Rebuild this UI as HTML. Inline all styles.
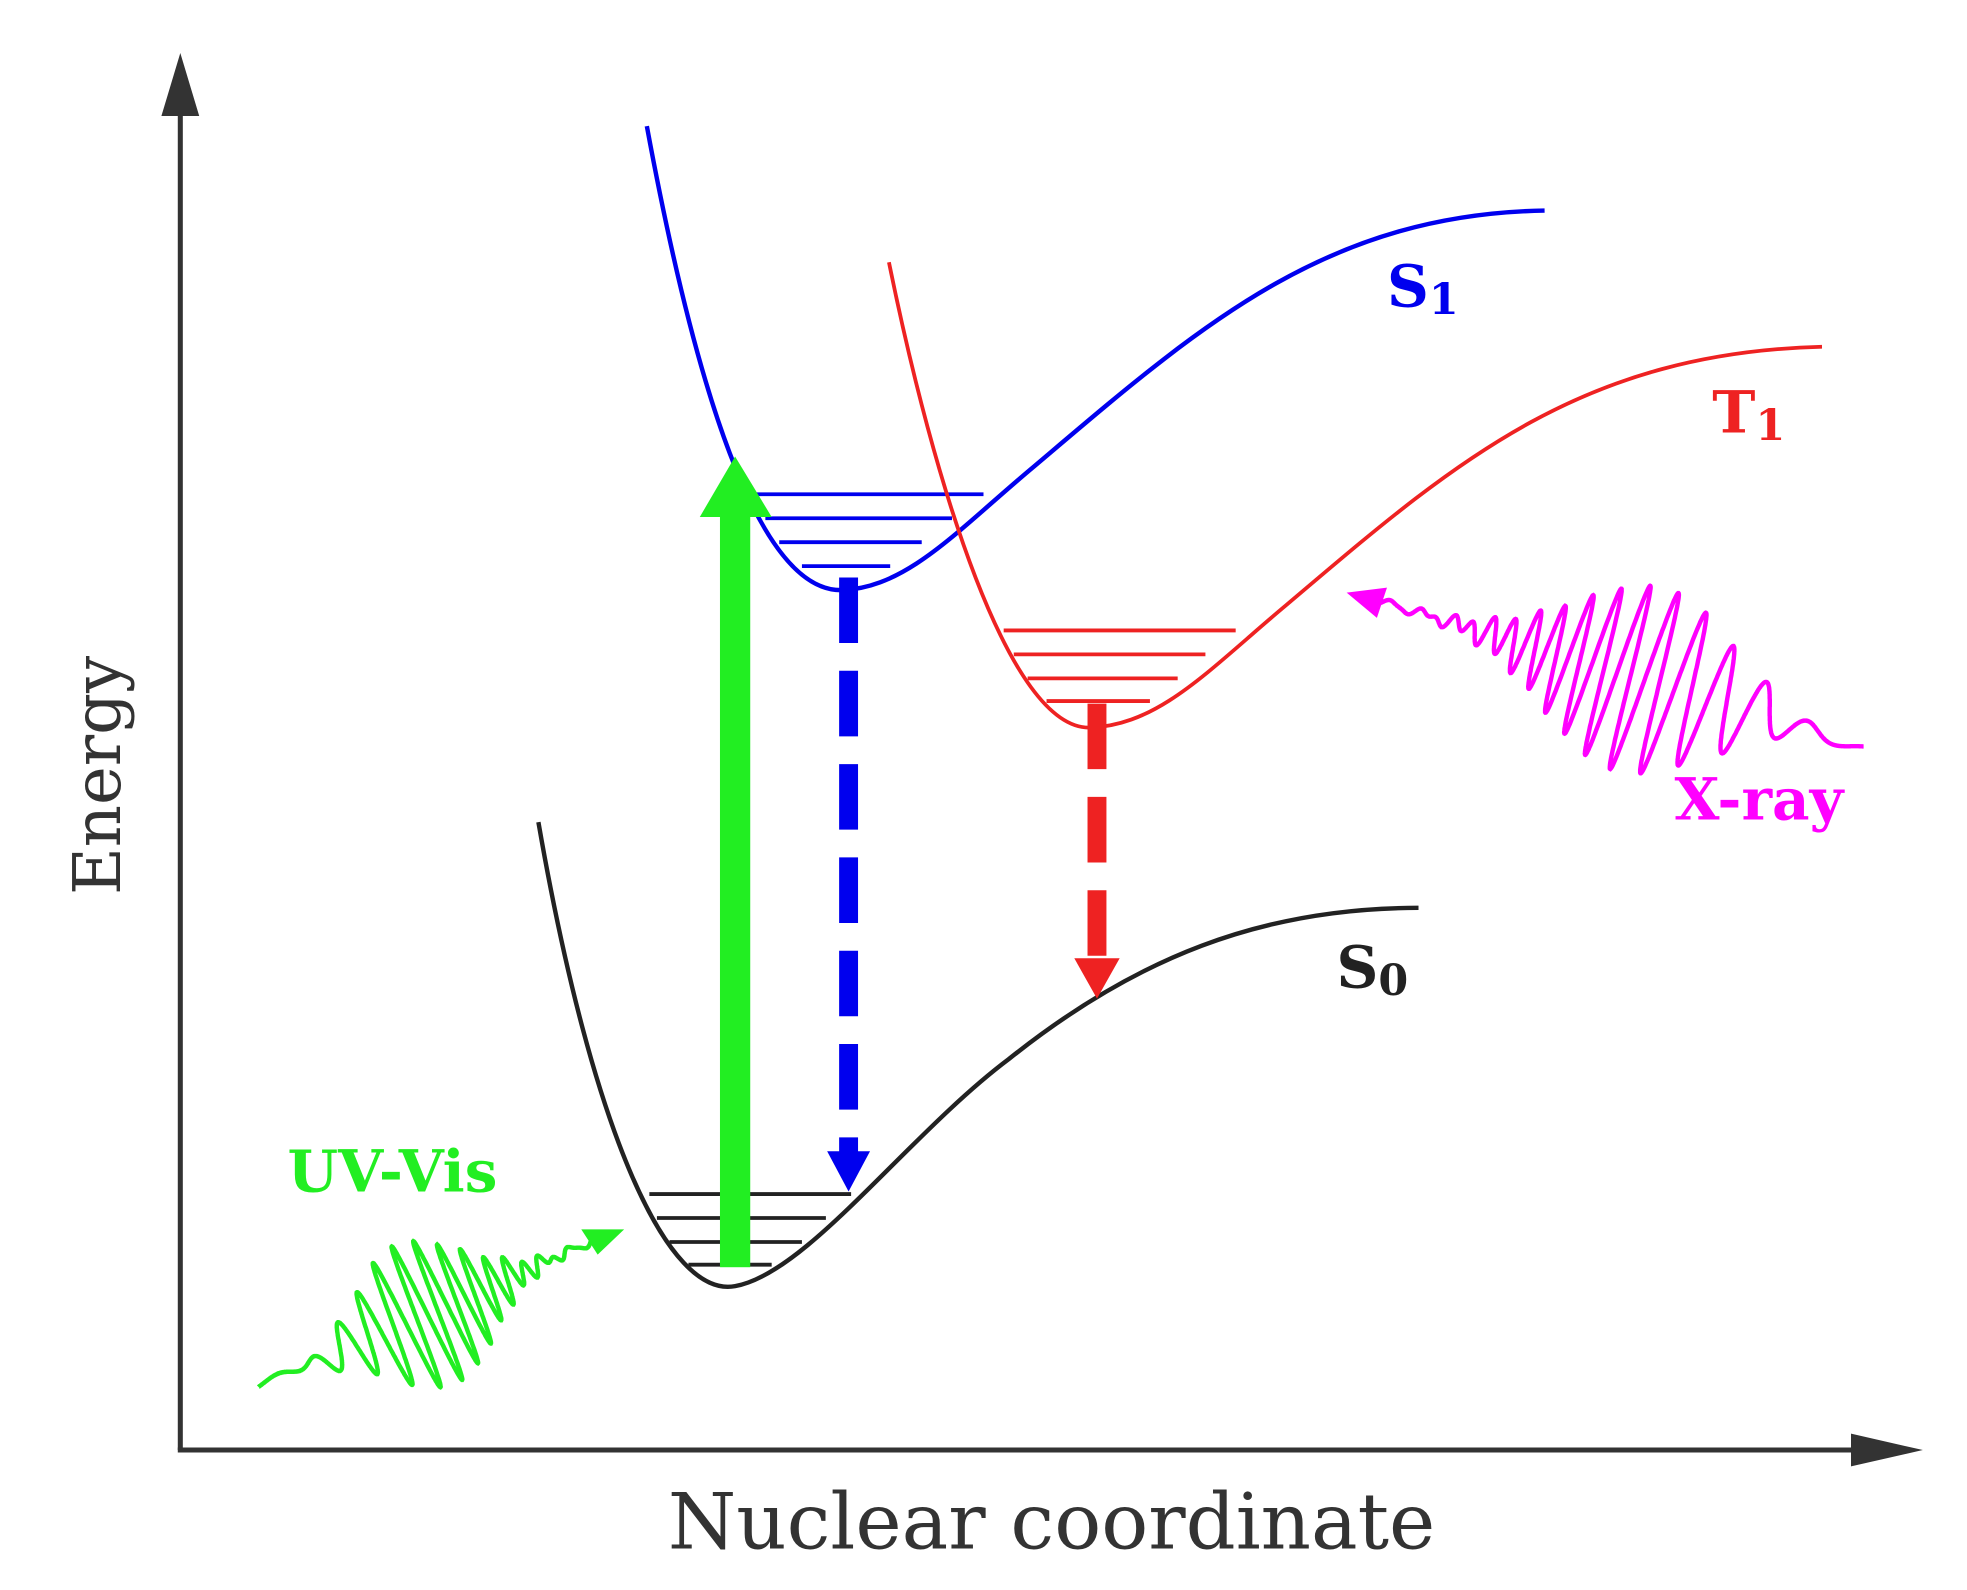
<!DOCTYPE html>
<html><head><meta charset="utf-8"><style>
html,body{margin:0;padding:0;background:#fff;}
svg{display:block;}
</style></head><body>
<svg id="s" width="1967" height="1590" viewBox="0 0 1560 1261" preserveAspectRatio="none" xmlns="http://www.w3.org/2000/svg">
<rect width="1560" height="1261" fill="#fff"/>
<!-- axes -->
<line x1="143" y1="1150" x2="143" y2="80" stroke="#333" stroke-width="4"/>
<polygon points="143,42 128,92 158,92" fill="#333"/>
<line x1="141" y1="1150" x2="1480" y2="1150" stroke="#333" stroke-width="4"/>
<polygon points="1525,1150 1468,1137 1468,1163" fill="#333"/>
<text x="0" y="0" transform="translate(95,615) rotate(-90)" text-anchor="middle" font-family="DejaVu Serif, Liberation Serif, serif" font-size="52" fill="#333">Energy</text>
<text x="834" y="1228" text-anchor="middle" font-family="DejaVu Serif, Liberation Serif, serif" font-size="62" fill="#333">Nuclear coordinate</text>

<!-- S0 -->
<path d="M427,652 C470,900 530,1030 583,1020 C640,1010 720,900 800,840 C900,760 1000,720 1125,720" fill="none" stroke="#222" stroke-width="3.5"/>
<g stroke="#222" stroke-width="3">
<line x1="515" y1="947" x2="675" y2="947"/>
<line x1="521" y1="966" x2="655" y2="966"/>
<line x1="531" y1="985" x2="636" y2="985"/>
<line x1="546" y1="1003" x2="612" y2="1003"/>
</g>
<!-- S1 -->
<path d="M513,100 C550,300 600,470 668,468 C720,466 760,420 820,370 C950,260 1050,170 1225,167" fill="none" stroke="#0000ee" stroke-width="3.5"/>
<g stroke="#0000ee" stroke-width="3">
<line x1="600" y1="392" x2="780" y2="392"/>
<line x1="607" y1="411" x2="755" y2="411"/>
<line x1="618" y1="430" x2="731" y2="430"/>
<line x1="636" y1="449" x2="706" y2="449"/>
</g>
<!-- T1 -->
<path d="M705,208 C740,380 800,580 865,577 C920,575 960,530 1020,480 C1150,370 1250,280 1445,275" fill="none" stroke="#ee2222" stroke-width="3"/>
<g stroke="#ee2222" stroke-width="3">
<line x1="796" y1="500" x2="980" y2="500"/>
<line x1="804" y1="519" x2="956" y2="519"/>
<line x1="815" y1="538" x2="934" y2="538"/>
<line x1="830" y1="556" x2="912" y2="556"/>
</g>
<!-- green arrow -->
<rect x="571" y="405" width="24" height="600" fill="#22ee22"/>
<polygon points="583,362 555,410 612,410" fill="#22ee22"/>
<!-- blue dashed -->
<line x1="673" y1="458" x2="673" y2="915" stroke="#0000ee" stroke-width="15" stroke-dasharray="52,22"/>
<polygon points="673,945 656,913 690,913" fill="#0000ee"/>
<!-- red dashed -->
<line x1="870" y1="558" x2="870" y2="762" stroke="#ee2222" stroke-width="15" stroke-dasharray="52,22"/>
<polygon points="870,792 852,760 888,760" fill="#ee2222"/>

<!-- labels -->
<g font-family="DejaVu Serif, Liberation Serif, serif" font-weight="bold">
<text x="1100" y="243" font-size="46" fill="#0000ee">S<tspan font-size="34" dy="6">1</tspan></text>
<text x="1358" y="343" font-size="46" fill="#ee2222">T<tspan font-size="34" dy="6">1</tspan></text>
<text x="1060" y="783" font-size="46" fill="#222">S<tspan font-size="34" dy="6">0</tspan></text>
<text x="1328" y="650" font-size="46" fill="#ff00ff">X-ray</text>
<text x="228" y="945" font-size="46" fill="#22ee22">UV-Vis</text>
</g>
<path id="uv" fill="none" stroke="#22ee22" stroke-width="3.5"/>
<polygon points="495,975 461,975 474,995" fill="#22ee22"/>
<path id="xr" fill="none" stroke="#ff00ff" stroke-width="3.5"/>
<polygon points="1068,470 1100,466 1092,490" fill="#ff00ff"/>
</svg>
<script>
function wave(id,x0,y0,x1,y1,c,sig,amp,k0,k1){
 var dx=x1-x0,dy=y1-y0,L=Math.hypot(dx,dy),ux=dx/L,uy=dy/L,px=uy,py=-ux;
 var d="",N=2000,ph=0;
 for(var i=0;i<=N;i++){var t=i/N,s=t*L;
  var k=k0+(k1-k0)*t; if(i>0)ph+=k*(L/N);
  var e=Math.exp(-Math.pow((t-c)/sig,2)/2);
  var a=amp*e*Math.sin(ph)+3*Math.sin(ph*0.5)*(1-e);
  var x=x0+ux*s+px*a,y=y0+uy*s+py*a;
  d+=(i?"L":"M")+x.toFixed(1)+","+y.toFixed(1);}
 document.getElementById(id).setAttribute("d",d);
}
wave("uv",205,1100,480,980,0.48,0.15,60,0.12,0.6);
wave("xr",1478,592,1085,474,0.45,0.16,75,0.08,0.5);
</script>
</body></html>
